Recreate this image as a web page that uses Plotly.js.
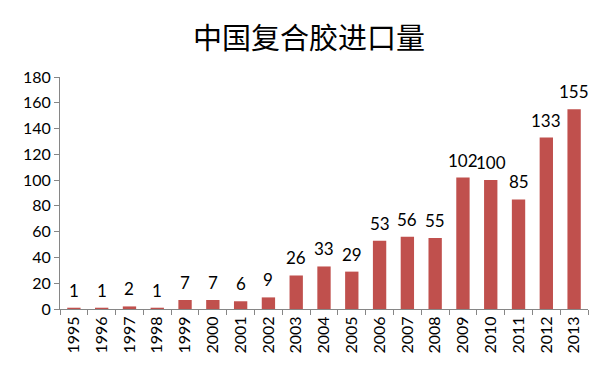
<!DOCTYPE html>
<html>
<head>
<meta charset="utf-8">
<script src="https://cdn.plot.ly/plotly-3.0.1.min.js"></script>
<style>html,body{margin:0;padding:0;background:#fff;}#chart{width:612px;height:368px;}</style>
</head>
<body>
<div id="chart"></div>
<script>
const years = ["1995","1996","1997","1998","1999","2000","2001","2002","2003","2004","2005","2006","2007","2008","2009","2010","2011","2012","2013"];
const imports = [1,1,2,1,7,7,6,9,26,33,29,53,56,55,102,100,85,133,155];
const yTicks = [0,20,40,60,80,100,120,140,160,180];
const chartTitle = "中国复合胶进口量";

const trace = {
  type: "bar",
  x: years,
  y: imports,
  cliponaxis: false,
  marker: {color: "#C0504D"},
  hoverinfo: "none"
};

// category axes index annotations by position
const labels = years.map((yr, i) => ({
  x: i, y: imports[i], xref: "x", yref: "y",
  text: String(imports[i]), showarrow: false,
  yanchor: "bottom", yshift: 5,
  font: {family: "Lato, 'Open Sans', sans-serif", size: 17, color: "#000"}
}));

const layout = {
  width: 612, height: 368,
  margin: {l: 60, r: 24, t: 77, b: 59},
  paper_bgcolor: "#fff", plot_bgcolor: "#fff",
  bargap: 0.52,
  showlegend: false,
  annotations: labels,
  title: {text: chartTitle, x: 0.505, xanchor: "center", y: 0.895, yanchor: "middle",
          font: {family: "'Noto Sans CJK SC', sans-serif", size: 29, color: "#000"}},
  xaxis: {
    type: "category",
    range: [-0.5, years.length - 0.5],
    tickangle: -90,
    tickfont: {family: "Lato, 'Open Sans', sans-serif", size: 16, color: "#000"},
    showline: true, linecolor: "#868686", linewidth: 1,
    ticks: "outside", ticklen: 5, tickcolor: "#868686", tickson: "boundaries",
    showgrid: false, zeroline: false
  },
  yaxis: {
    range: [0, 180],
    tickvals: yTicks,
    ticktext: yTicks.map(String),
    tickfont: {family: "Lato, 'Open Sans', sans-serif", size: 16, color: "#000"},
    showline: true, linecolor: "#868686", linewidth: 1,
    ticks: "outside", ticklen: 5, tickcolor: "#868686",
    showgrid: false, zeroline: false
  },
  font: {family: "Lato, sans-serif"}
};

Plotly.newPlot("chart", [trace], layout, {displayModeBar: false, staticPlot: true});
</script>
</body>
</html>
